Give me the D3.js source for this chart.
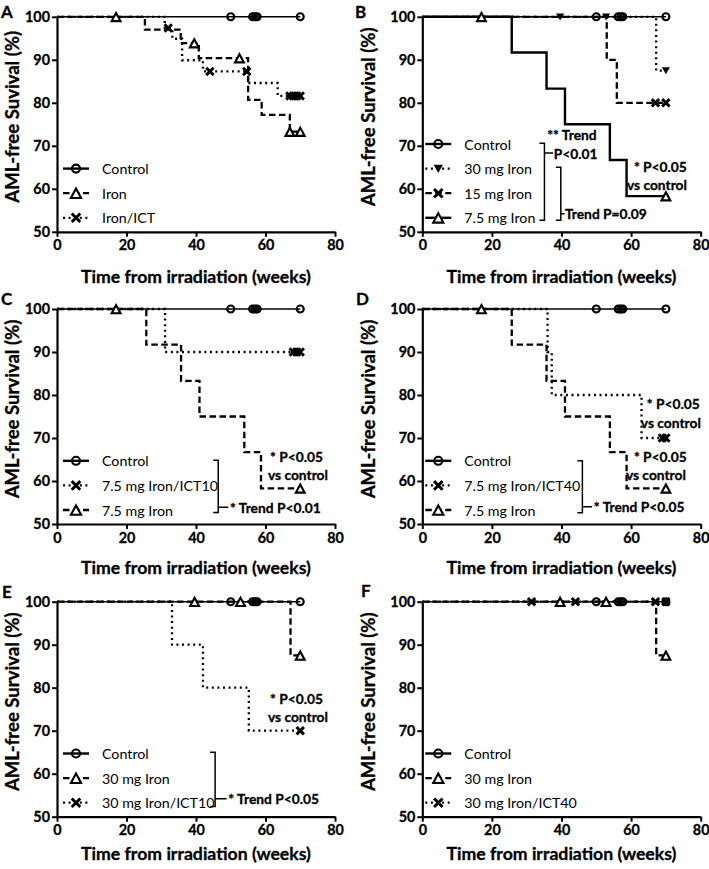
<!DOCTYPE html>
<html><head><meta charset="utf-8">
<script src="https://cdn.jsdelivr.net/npm/d3@7"></script>
<style>
body{margin:0;background:#fff}
text{font-family:Lato, sans-serif;fill:#000}
text.b{font-weight:bold;stroke:#000;stroke-width:0.3px}
</style>
</head><body><svg id="fig"></svg>
<script>
// ---- data (weeks, % AML-free survival) ----
const xTicks = [0, 20, 40, 60, 80];
const yTicks = [50, 60, 70, 80, 90, 100];

const controlCensor = [50, 56.3, 57, 57.6, 70];

// panel A
const ironA_t = [25.3, 35.6, 40.8, 55.0, 58.9, 67.0];
const ironA_s = [97.0, 93.9, 90.4, 80.7, 77.2, 73.3];
const ironA_censor = [17, 39.5, 52.5, 67, 70];
const ictA_t = [31.0, 33.2, 36.0, 42.0, 55.0, 63.5];
const ictA_s = [97.4, 94.9, 89.9, 87.3, 84.6, 81.6];
const ictA_censor = [32, 44, 54.6, 67, 68, 69, 70];

// 30 mg, 15 mg, 7.5 mg iron
const iron30_t = [67.2];
const iron30_s = [87.5];
const iron30_censor = [39.6, 52.8, 70];
const iron15_t = [53.0, 55.9];
const iron15_s = [90, 80];
const iron15_censor = [67, 70];
const iron75_t = [25.7, 35.7, 41.0, 53.9, 58.7];
const iron75_s = [91.7, 83.3, 75.0, 66.7, 58.3];
const iron75_censor = [17, 70];

// chelation groups
const ict10_75_t = [31.1];
const ict10_75_s = [90];
const ict10_75_censor = [68, 69, 70];
const ict40_75_t = [36.0, 37.2, 63.0];
const ict40_75_s = [90, 80, 70];
const ict40_75_censor = [69, 70];
const ict10_30_t = [33.1, 42.0, 55.2];
const ict10_30_s = [90, 80, 70];
const ict10_30_censor = [70];
const ict40_30_t = [];
const ict40_30_s = [];
const ict40_30_censor = [31.4, 44, 67, 70];

// ---- series ----
const control = {label:'Control', t:[], s:[], c:controlCensor, line:'solid', mark:'circle'};
function ser(label, t, s, c, line, mark){ return {label, t, s, c, line, mark}; }

const panels = [
  {id:'A', col:0, row:0, ytitle:'AML-free Suvival (%)',
   series:[control, ser('Iron', ironA_t, ironA_s, ironA_censor, 'dashed', 'tri'),
           ser('Iron/ICT', ictA_t, ictA_s, ictA_censor, 'dotted', 'x')],
   texts:[], brackets:[]},
  {id:'B', col:1, row:0, ytitle:'AML-free Survival (%)',
   series:[control, ser('30 mg Iron', iron30_t, iron30_s, iron30_censor, 'dotted', 'down'),
           ser('15 mg Iron', iron15_t, iron15_s, iron15_censor, 'dashed', 'x'),
           ser('7.5 mg Iron', iron75_t, iron75_s, iron75_censor, 'thick', 'tri')],
   texts:[[35.9,72.6,'** Trend'],[37.8,68.3,'P<0.01'],[41.0,54.2,'Trend P=0.09'],
          [60.8,65.2,'* P<0.05'],[58.8,61.0,'vs control']],
   brackets:[[35.1,70.6,52.7,68.3,37.6],[39.8,65.0,52.7,54.2,40.9]]},
  {id:'C', col:0, row:1, ytitle:'AML-free Survival (%)',
   series:[control, ser('7.5 mg Iron/ICT10', ict10_75_t, ict10_75_s, ict10_75_censor, 'dotted', 'x'),
           ser('7.5 mg Iron', iron75_t, iron75_s, iron75_censor, 'dashed', 'tri')],
   texts:[[61.3,65.8,'* P<0.05'],[60.7,61.5,'vs control'],[49.8,53.9,'* Trend P<0.01']],
   brackets:[[46.4,64.8,52.7,53.9,49.3]]},
  {id:'D', col:1, row:1, ytitle:'AML-free Survival (%)',
   series:[control, ser('7.5 mg Iron/ICT40', ict40_75_t, ict40_75_s, ict40_75_censor, 'dotted', 'x'),
           ser('7.5 mg Iron', iron75_t, iron75_s, iron75_censor, 'dashed', 'tri')],
   texts:[[64.5,78.0,'* P<0.05'],[62.8,73.5,'vs control'],[60.8,65.8,'* P<0.05'],
          [58.5,61.4,'vs control'],[49.3,54.0,'* Trend P<0.05']],
   brackets:[[46.0,64.7,52.6,54.0,48.8]]},
  {id:'E', col:0, row:2, ytitle:'AML-free Survival (%)',
   series:[control, ser('30 mg Iron', iron30_t, iron30_s, iron30_censor, 'dashed', 'tri'),
           ser('30 mg Iron/ICT10', ict10_30_t, ict10_30_s, ict10_30_censor, 'dotted', 'x')],
   texts:[[61.3,77.6,'* P<0.05'],[60.7,73.4,'vs control'],[49.3,54.2,'* Trend P<0.05']],
   brackets:[[45.5,65.0,52.4,54.2,48.8]]},
  {id:'F', col:1, row:2, ytitle:'AML-free Survival (%)',
   series:[control, ser('30 mg Iron', iron30_t, iron30_s, iron30_censor, 'dashed', 'tri'),
           ser('30 mg Iron/ICT40', ict40_30_t, ict40_30_s, ict40_30_censor, 'dotted', 'x')],
   texts:[], brackets:[]}
];

// ---- layout ----
const colX = [57, 422.3], colW = [278, 278.4];
const rowY = [16.8, 309, 601.7], plotH = 215;
const titleOff = [45.5, 54.5];
const xTitleOff = [45, 43.5, 37];
const letterPos = {A:[1,17.5], B:[355,17.5], C:[1,305], D:[356,305], E:[2,598], F:[361,597]};

const lineStyle = {
  solid:{w:1.6, dash:null}, thick:{w:2.4, dash:null},
  dashed:{w:2.3, dash:'6.5,3.5'}, dotted:{w:2.3, dash:'2,3.6'}
};

const svg = d3.select('#fig').attr('width', 709).attr('height', 869);

// font sizes chosen so the text widths match the figure
function fitSize(str, cls, target){
  const t = svg.append('text').attr('class', cls).attr('font-size', 100).text(str);
  const w = t.node().getComputedTextLength();
  t.remove();
  return 100 * target / w;
}
const fs = {
  xTitle: fitSize('Time from irradiation (weeks)', 'b', 230),
  yTitle: fitSize('AML-free Suvival (%)', 'b', 172),
  tick: fitSize('100', 'b', 25),
  note: fitSize('* P<0.05', 'b', 53),
  legend: fitSize('7.5 mg Iron/ICT10', '', 116)
};

function survAt(se, t){
  let v = 100;
  se.t.forEach((tt,i)=>{ if (t >= tt) v = se.s[i]; });
  return v;
}

function drawMark(g, type, px, py, k){
  k = k || 1;
  if (type === 'circle') {
    g.append('circle').attr('cx',px).attr('cy',py).attr('r',3.5*k)
      .attr('fill','none').attr('stroke','#000').attr('stroke-width',2.1);
  } else if (type === 'tri') {
    g.append('path').attr('transform',`translate(${px},${py+0.8}) scale(${k})`)
      .attr('d','M0,-4.7L4.4,3.5L-4.4,3.5Z')
      .attr('fill','#fff').attr('stroke','#000').attr('stroke-width',2.1/k);
  } else if (type === 'down') {
    g.append('path').attr('transform',`translate(${px},${py}) scale(${k})`)
      .attr('d','M-4,-3.3L4,-3.3L0,3.8Z').attr('fill','#000');
  } else if (type === 'x') {
    g.append('path').attr('transform',`translate(${px},${py}) scale(${k})`)
      .attr('d','M-3.7,-3.7L3.7,3.7M3.7,-3.7L-3.7,3.7')
      .attr('stroke','#000').attr('stroke-width',2.9/k).attr('fill','none');
  }
}

function drawPanel(p){
  const ox = colX[p.col], oy = rowY[p.row], w = colW[p.col];
  const g = svg.append('g');
  const x = d3.scaleLinear().domain([0, 80]).range([ox, ox + w]);
  const y = d3.scaleLinear().domain([50, 100]).range([oy + plotH, oy]);

  const gx = g.append('g').attr('transform', `translate(0,${oy + plotH})`)
    .call(d3.axisBottom(x).tickValues(xTicks).tickSize(5).tickSizeOuter(0).tickPadding(3.5));
  const gy = g.append('g').attr('transform', `translate(${ox},0)`)
    .call(d3.axisLeft(y).tickValues(yTicks).tickSize(5).tickSizeOuter(0).tickPadding(2));
  [gx, gy].forEach(a => {
    a.select('.domain').attr('stroke-width', 2.2);
    a.selectAll('.tick line').attr('stroke-width', 2);
    a.selectAll('.tick text').attr('class','b').attr('font-family','Lato')
      .attr('font-size', fs.tick);
  });

  g.append('text').attr('class','b').attr('x', (ox + ox + w) / 2).attr('y', oy + plotH + xTitleOff[p.row])
    .attr('text-anchor','middle').attr('dominant-baseline','central')
    .attr('font-size', fs.xTitle).text('Time from irradiation (weeks)');
  g.append('text').attr('class','b').attr('transform', `translate(${ox - titleOff[p.col]},${oy + 100}) rotate(-90)`)
    .attr('text-anchor','middle').attr('dominant-baseline','central')
    .attr('font-size', fs.yTitle).text(p.ytitle);
  g.append('text').attr('class','b').attr('x', letterPos[p.id][0]).attr('y', letterPos[p.id][1])
    .attr('font-size', 17).text(p.id);

  const step = d3.line().x(d => x(d[0])).y(d => y(d[1])).curve(d3.curveStepAfter);

  // curves: reversed so the control line sits on top
  p.series.slice().reverse().forEach(se => {
    const end = d3.max(se.c.concat(se.t));
    const pts = [[0, 100]];
    se.t.forEach((tt, i) => pts.push([tt, se.s[i]]));
    pts.push([end, survAt(se, end)]);
    const st = lineStyle[se.line];
    g.append('path').attr('d', step(pts)).attr('fill','none').attr('stroke','#000')
      .attr('stroke-width', st.w).attr('stroke-dasharray', st.dash);
  });
  p.series.forEach(se => {
    se.c.forEach(tc => drawMark(g, se.mark, x(tc), y(survAt(se, tc))));
  });

  // legend
  const n = p.series.length;
  const lx = ox + (p.col === 0 ? 19 : 16);
  p.series.forEach((se, i) => {
    const ly = oy + 201 - (n - 1 - i) * 24.6;
    const st = lineStyle[se.line];
    g.append('line').attr('x1', lx - 13).attr('x2', lx + 13).attr('y1', ly).attr('y2', ly)
      .attr('stroke','#000').attr('stroke-width', se.line === 'solid' ? 2.4 : st.w)
      .attr('stroke-dasharray', st.dash);
    drawMark(g, se.mark, lx, ly, 1.15);
    g.append('text').attr('x', lx + 26).attr('y', ly).attr('dominant-baseline','central')
      .attr('font-size', fs.legend).text(se.label);
  });

  // statistics
  p.texts.forEach(d => {
    g.append('text').attr('class','b').attr('x', x(d[0])).attr('y', y(d[1]))
      .attr('dominant-baseline','central').attr('font-size', fs.note).text(d[2]);
  });
  p.brackets.forEach(b => {
    const bx = x(b[0]);
    g.append('path')
      .attr('d', `M${bx - 5},${y(b[1])}H${bx}V${y(b[2])}H${bx - 5}M${bx},${y(b[3])}H${x(b[4])}`)
      .attr('fill','none').attr('stroke','#000').attr('stroke-width', 1.5);
  });
}

panels.forEach(drawPanel);
</script>
</body></html>
